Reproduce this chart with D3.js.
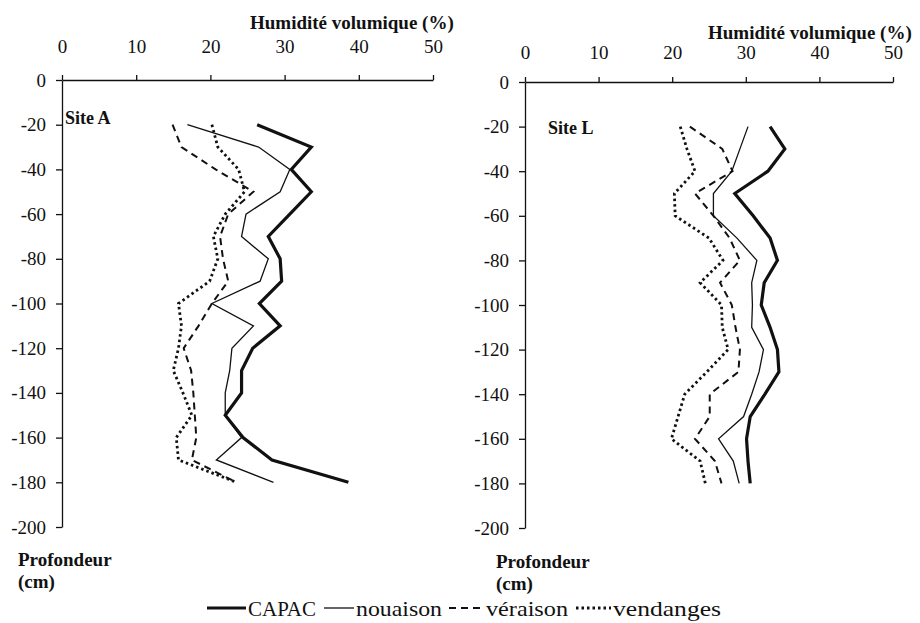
<!DOCTYPE html>
<html>
<head>
<meta charset="utf-8">
<script src="https://cdn.jsdelivr.net/npm/d3@7"></script>
<style>
  html, body { margin: 0; padding: 0; background: #fff; }
  svg, svg text { font-family: "Liberation Serif", Tinos, "Times New Roman", Times, "DejaVu Serif", serif !important; }
</style>
</head>
<body>
<svg id="chart" width="920" height="623"></svg>
<script>
// ---- Data ----
const depths = [-20, -30, -40, -50, -60, -70, -80, -90, -100, -110, -120, -130, -140, -150, -160, -170, -180];

// Site A
const capacA     = [26.3, 33.6, 30.9, 33.6, 30.7, 27.8, 29.4, 29.6, 26.6, 29.4, 25.7, 24.2, 24.2, 22.0, 24.4, 28.3, 38.6];
const nouaisonA  = [16.9, 26.5, 30.7, 29.4, 24.8, 24.2, 27.8, 26.7, 20.2, 25.8, 22.9, 22.6, 22.0, 22.0, 24.2, 20.8, 28.5];
const veraisonA  = [14.9, 16.1, 20.7, 25.8, 22.4, 21.3, 21.7, 22.4, 20.2, 18.4, 16.4, 17.4, 17.7, 17.9, 18.1, 17.5, 23.5];
const vendangesA = [20.2, 21.0, 23.8, 24.6, 22.0, 20.4, 21.0, 19.9, 15.7, 16.1, 15.7, 15.0, 16.3, 17.5, 15.4, 15.7, 23.5];

// Site L
const capacL     = [33.3, 35.3, 33.0, 28.5, 31.0, 33.3, 34.3, 32.5, 32.1, 33.3, 34.3, 34.5, 32.6, 30.6, 30.1, 30.3, 30.6];
const nouaisonL  = [30.3, 29.2, 28.1, 25.6, 25.6, 28.8, 31.5, 30.8, 30.9, 30.8, 32.4, 31.8, 30.8, 29.7, 26.3, 28.3, 29.1];
const veraisonL  = [22.4, 26.8, 28.2, 23.1, 25.6, 27.8, 29.2, 26.5, 28.1, 28.6, 29.2, 29.0, 25.1, 25.1, 23.1, 25.8, 26.7];
const vendangesL = [21.1, 22.0, 23.1, 20.3, 20.4, 25.0, 26.9, 23.8, 26.7, 26.8, 27.6, 24.7, 21.7, 20.8, 19.9, 23.8, 24.5];

const xTicks = [0, 10, 20, 30, 40, 50];
const yTicks = [0, -20, -40, -60, -80, -100, -120, -140, -160, -180, -200];

const seriesNames = ["CAPAC", "nouaison", "véraison", "vendanges"];
const xTitle = "Humidité volumique (%)";
const yTitle = ["Profondeur", "(cm)"];

// ---- Styles ----
const FONT = '"Liberation Serif", Tinos, "Times New Roman", Times, "DejaVu Serif", serif';
const styles = {
  "CAPAC":     { width: 3.2, dash: null },
  "nouaison":  { width: 1.3, dash: null },
  "véraison":  { width: 2.0, dash: "7,5" },
  "vendanges": { width: 2.8, dash: "2.5,3" }
};
const ink = "#111";

const svg = d3.select("#chart").attr("font-family", FONT);

function panel(cfg) {
  const x = d3.scaleLinear().domain([0, 50]).range([cfg.x0, cfg.x1]);
  const y = d3.scaleLinear().domain([0, -200]).range([cfg.y0, cfg.y1]);
  const g = svg.append("g").attr("font-family", FONT);

  // x axis (top)
  const xa = g.append("g")
    .attr("transform", `translate(0,${cfg.y0})`)
    .call(d3.axisTop(x).tickValues(xTicks).tickSize(5).tickSizeOuter(0).tickPadding(cfg.xPad).tickFormat(d => String(d)))
    .attr("font-family", FONT).attr("font-size", 19);
  xa.select(".domain").attr("stroke", ink).attr("stroke-width", 1.3);
  xa.selectAll(".tick line").attr("stroke", ink).attr("stroke-width", 1.3);
  xa.selectAll("text").attr("fill", ink);

  // y axis (left)
  const ya = g.append("g")
    .attr("transform", `translate(${cfg.x0},0)`)
    .call(d3.axisLeft(y).tickValues(yTicks).tickSize(6).tickSizeOuter(0).tickPadding(10).tickFormat(d => String(d)))
    .attr("font-family", FONT).attr("font-size", 19);
  ya.select(".domain").attr("stroke", ink).attr("stroke-width", 1.3);
  ya.selectAll(".tick line").attr("stroke", ink).attr("stroke-width", 1.3);
  ya.selectAll("text").attr("fill", ink);

  // titles
  g.append("text").attr("x", cfg.titleX).attr("y", cfg.titleY)
    .attr("font-size", 19).attr("font-weight", "bold").attr("fill", ink).text(xTitle);
  g.append("text").attr("x", cfg.siteX).attr("y", cfg.siteY)
    .attr("font-size", 18).attr("font-weight", "bold").attr("fill", ink).text(cfg.site);
  g.append("text").attr("x", cfg.profX).attr("y", cfg.profY)
    .attr("font-size", 19).attr("font-weight", "bold").attr("fill", ink).text(yTitle[0]);
  g.append("text").attr("x", cfg.profX).attr("y", cfg.profY + 22)
    .attr("font-size", 19).attr("font-weight", "bold").attr("fill", ink).text(yTitle[1]);

  const line = d3.line().x(d => x(d[0])).y(d => y(d[1]));
  cfg.series.forEach((vals, i) => {
    const st = styles[seriesNames[i]];
    g.append("path")
      .datum(vals.map((v, k) => [v, depths[k]]))
      .attr("d", line)
      .attr("fill", "none")
      .attr("stroke", ink)
      .attr("stroke-width", st.width)
      .attr("stroke-linejoin", "miter")
      .attr("stroke-dasharray", st.dash);
  });
}

panel({
  x0: 62, x1: 433, y0: 80, y1: 527, xPad: 22,
  titleX: 250, titleY: 29, site: "Site A", siteX: 65, siteY: 124,
  profX: 18, profY: 566,
  series: [capacA, nouaisonA, veraisonA, vendangesA]
});

panel({
  x0: 525, x1: 893, y0: 82, y1: 528, xPad: 18,
  titleX: 708, titleY: 39, site: "Site L", siteX: 548, siteY: 134,
  profX: 496, profY: 568,
  series: [capacL, nouaisonL, veraisonL, vendangesL]
});

// ---- Legend ----
const legendItems = [
  { name: "CAPAC",     lx0: 207, lx1: 246, tx: 248, w: 68 },
  { name: "nouaison",  lx0: 324, lx1: 354, tx: 356, w: 86 },
  { name: "véraison",  lx0: 449, lx1: 480, tx: 486, w: 82 },
  { name: "vendanges", lx0: 576, lx1: 611, tx: 613, w: 108 }
];
const lg = svg.append("g").attr("font-family", FONT);
legendItems.forEach(it => {
  const st = styles[it.name];
  lg.append("line").attr("x1", it.lx0).attr("x2", it.lx1).attr("y1", 608).attr("y2", 608)
    .attr("stroke", ink).attr("stroke-width", st.width).attr("stroke-dasharray", st.dash);
  lg.append("text").attr("x", it.tx).attr("y", 616).attr("font-size", 22).attr("fill", ink)
    .attr("textLength", it.w).attr("lengthAdjust", "spacingAndGlyphs").text(it.name);
});
</script>
</body>
</html>
